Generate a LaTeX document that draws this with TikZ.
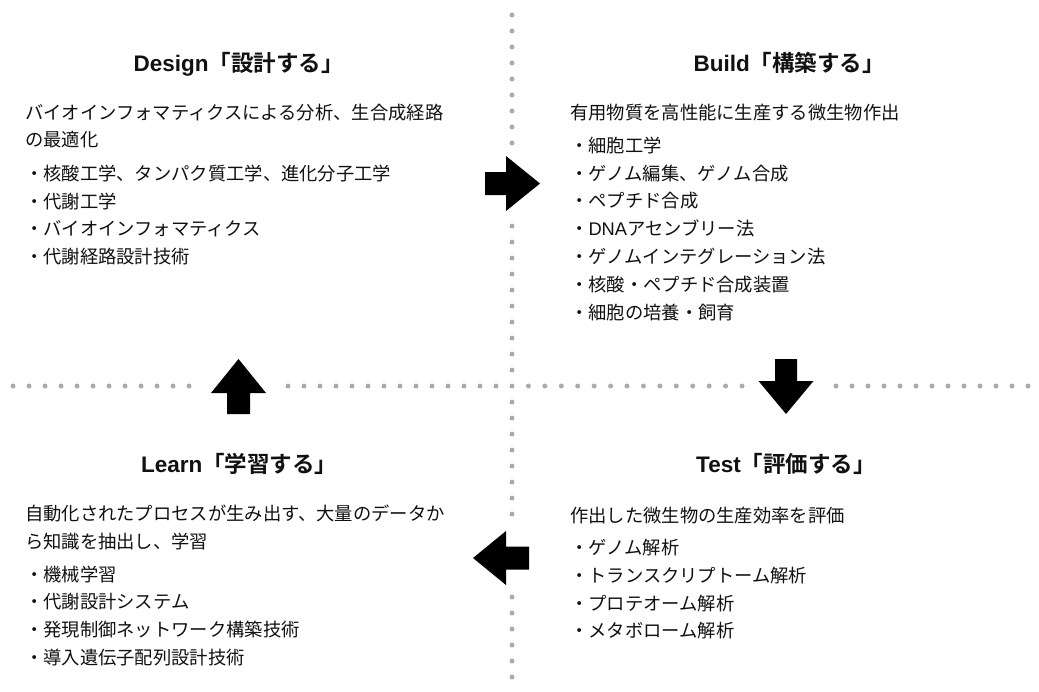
\documentclass[tikz,border=0pt]{standalone}
\usepackage{fontspec}
\setmainfont{Noto Sans CJK JP}[BoldFont={Noto Sans CJK JP Bold}]
\newfontfamily\latfont{Liberation Sans}
\newcommand{\lat}[1]{{\latfont #1}}
\definecolor{dotgray}{HTML}{ABABAB}
\definecolor{inkc}{HTML}{111111}
\begin{document}
\begin{tikzpicture}[x=1pt,y=-1pt,
  dotmark/.style={fill=dotgray},
  blockarrow/.style={fill=black},
  ttl/.style={anchor=west,inner sep=0,text=inkc,font=\fontsize{22.5}{22.5}\selectfont\bfseries,text height=19.8pt,text depth=2.7pt},
  txt/.style={anchor=west,inner sep=0,text=inkc,font=\fontsize{18.3}{18.3}\selectfont,text height=16.1pt,text depth=2.2pt}]
\useasboundingbox[fill=white] (0,0) rectangle (1039,691);

% dotted dividers
\foreach \y in {15,31,...,143} \fill[dotmark] (512,\y) circle (2.5);
\foreach \y in {226,242,...,514} \fill[dotmark] (512,\y) circle (2.5);
\foreach \y in {597,613,...,677} \fill[dotmark] (512,\y) circle (2.5);
\foreach \x in {13,29,...,189} \fill[dotmark] (\x,386) circle (2.5);
\foreach \x in {288,304,...,496} \fill[dotmark] (\x,386) circle (2.5);
\foreach \i in {1,...,14} \fill[dotmark] ({512+\i*16.43},386) circle (2.5);
\foreach \x in {836,852,...,1028} \fill[dotmark] (\x,386) circle (2.5);

% block arrows
\fill[blockarrow] (485,172) -- (506,172) -- (506,156) -- (540,183.5) -- (506,211) -- (506,195) -- (485,195) -- cycle;
\fill[blockarrow] (775,359) -- (797,359) -- (797,381) -- (813.5,381) -- (786,414) -- (758.5,381) -- (775,381) -- cycle;
\fill[blockarrow] (529,546.5) -- (506,546.5) -- (506,531) -- (473,558) -- (506,585) -- (506,569.5) -- (529,569.5) -- cycle;
\fill[blockarrow] (227,414) -- (250,414) -- (250,393) -- (266,393) -- (238.5,359) -- (211,393) -- (227,393) -- cycle;

% Design
\node[ttl] (dT) at (133.5,62.5) {\lat{Design}「設計する」};
\node[txt] (d1) at (25,113) {バイオインフォマティクスによる分析、生合成経路};
\node[txt] (d2) at (25,140) {の最適化};
\node[txt] (d3) at (25,174) {・核酸工学、タンパク質工学、進化分子工学};
\node[txt] (d4) at (25,202) {・代謝工学};
\node[txt] (d5) at (25,229) {・バイオインフォマティクス};
\node[txt] (d6) at (25,257) {・代謝経路設計技術};

% Build
\node[ttl] (bT) at (693.5,62.5) {\lat{Build}「構築する」};
\node[txt] (b1) at (570,113) {有用物質を高性能に生産する微生物作出};
\node[txt] (b2) at (570,146) {・細胞工学};
\node[txt] (b3) at (570,174) {・ゲノム編集、ゲノム合成};
\node[txt] (b4) at (570,201) {・ペプチド合成};
\node[txt] (b5) at (570,229) {・\lat{DNA}アセンブリー法};
\node[txt] (b6) at (570,257) {・ゲノムインテグレーション法};
\node[txt] (b7) at (570,285) {・核酸・ペプチド合成装置};
\node[txt] (b8) at (570,313) {・細胞の培養・飼育};

% Learn
\node[ttl] (lT) at (141,463.5) {\lat{Learn}「学習する」};
\node[txt] (l1) at (25,514) {自動化されたプロセスが生み出す、大量のデータか};
\node[txt] (l2) at (25,542) {ら知識を抽出し、学習};
\node[txt] (l3) at (25,575) {・機械学習};
\node[txt] (l4) at (25,602) {・代謝設計システム};
\node[txt] (l5) at (25,630) {・発現制御ネットワーク構築技術};
\node[txt] (l6) at (25,658) {・導入遺伝子配列設計技術};

% Test
\node[ttl] (tT) at (696,463.5) {\lat{Test}「評価する」};
\node[txt] (t1) at (570,516) {作出した微生物の生産効率を評価};
\node[txt] (t2) at (570,548) {・ゲノム解析};
\node[txt] (t3) at (570,576) {・トランスクリプトーム解析};
\node[txt] (t4) at (570,604) {・プロテオーム解析};
\node[txt] (t5) at (570,631) {・メタボローム解析};
\end{tikzpicture}
\end{document}
